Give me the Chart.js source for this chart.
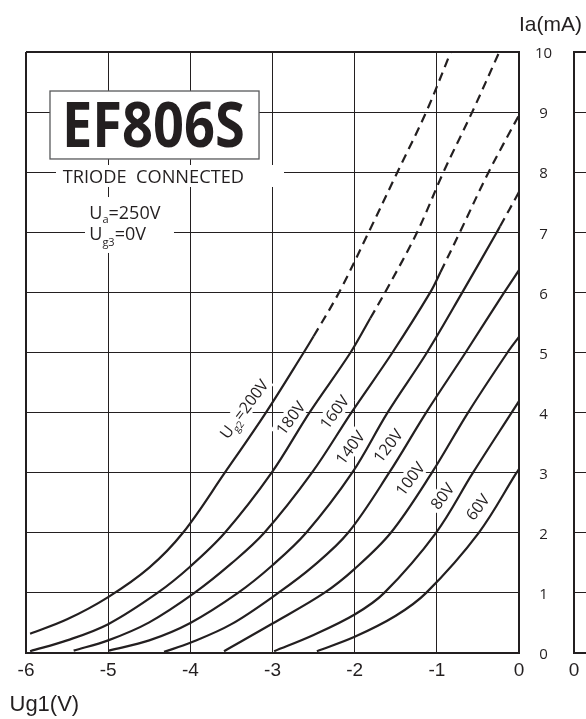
<!DOCTYPE html>
<html>
<head>
<meta charset="utf-8">
<script src="https://cdn.jsdelivr.net/npm/chart.js@4.4.1/dist/chart.umd.min.js"></script>
<style>
html,body{margin:0;padding:0;background:#fff;overflow:hidden;}
#wrap{position:relative;width:586px;height:719px;overflow:hidden;background:#fff;}
#c1{position:absolute;left:0;top:0;}
#c2{position:absolute;left:560px;top:0;}
</style>
</head>
<body>
<div id="wrap">
<canvas id="c1" width="586" height="719"></canvas>
<canvas id="c2" width="80" height="719"></canvas>
</div>
<script>
// ---------- data ----------
const ug1Ticks = [-6, -5, -4, -3, -2, -1, 0];
const iaTicks = [0, 1, 2, 3, 4, 5, 6, 7, 8, 9, 10];
const ug2Names = ['200V', '180V', '160V', '140V', '120V', '100V', '80V', '60V'];

const ug1_200 = [-5.95, -5.5, -5.0, -4.5, -4.09, -3.58, -3.08, -2.62, -2.50, -2.19, -1.83, -1.48, -1.13, -0.83];
const ia_200  = [0.32, 0.56, 0.93, 1.42, 2.0, 3.0, 4.0, 5.0, 5.27, 6.0, 7.0, 8.0, 9.0, 10.0];

const ug1_180 = [-5.95, -5.5, -5.0, -4.4, -4.0, -3.58, -3.01, -2.55, -2.05, -1.81, -1.63, -1.24, -0.92, -0.57, -0.24];
const ia_180  = [0.03, 0.21, 0.48, 1.0, 1.44, 2.0, 3.0, 4.0, 5.0, 5.57, 6.0, 7.0, 8.0, 9.0, 10.0];

const ug1_160 = [-5.42, -5.0, -4.5, -3.95, -3.5, -3.10, -2.52, -2.04, -1.54, -1.08, -0.955, -0.72, -0.37, 0.0];
const ia_160  = [0.04, 0.21, 0.51, 1.0, 1.49, 2.0, 3.0, 4.0, 5.0, 6.0, 6.34, 7.0, 8.0, 8.95];

const ug1_140 = [-4.99, -4.5, -4.0, -3.42, -3.0, -2.59, -2.03, -1.60, -1.12, -0.69, -0.27, -0.23, 0.0];
const ia_140  = [0.04, 0.21, 0.50, 1.0, 1.46, 2.0, 3.0, 4.0, 5.0, 6.0, 7.0, 7.1, 7.67];

const ug1_120 = [-4.32, -4.0, -3.5, -2.93, -2.5, -2.08, -1.58, -1.13, -0.65, -0.18, 0.0];
const ia_120  = [0.02, 0.17, 0.48, 1.0, 1.45, 2.0, 3.0, 4.0, 5.0, 6.0, 6.37];

const ug1_100 = [-3.59, -3.0, -2.37, -2.0, -1.56, -1.06, -0.62, -0.14, 0.0];
const ia_100  = [0.03, 0.49, 1.0, 1.40, 2.0, 3.0, 4.0, 5.0, 5.26];

const ug1_80 = [-2.98, -2.5, -2.0, -1.64, -1.01, -0.56, -0.09, 0.0];
const ia_80  = [0.03, 0.30, 0.64, 1.0, 2.0, 3.0, 4.0, 4.19];

const ug1_60 = [-2.46, -2.0, -1.5, -1.13, -0.49, -0.03, 0.0];
const ia_60  = [0.03, 0.27, 0.62, 1.0, 2.0, 3.0, 3.06];

// current above which each curve is drawn dashed (null = solid throughout)
const dashFromIa = [5.27, 5.57, 6.34, 7.1, null, null, null, null];

// curve label anchors (Ug1 V, Ia mA)
const labelUg1 = [-3.347, -2.78, -2.247, -2.057, -1.595, -1.327, -0.932, -0.503];
const labelIa  = [4.06, 3.91, 4.01, 3.42, 3.45, 2.90, 2.61, 2.43];

// ---------- chart ----------
const INK = '#231f20';
const allX = [ug1_200, ug1_180, ug1_160, ug1_140, ug1_120, ug1_100, ug1_80, ug1_60];
const allY = [ia_200, ia_180, ia_160, ia_140, ia_120, ia_100, ia_80, ia_60];

const datasets = allX.map((xs, k) => {
  const df = dashFromIa[k];
  return {
    label: ug2Names[k],
    data: xs.map((v, i) => ({x: v, y: allY[k][i]})),
    borderColor: INK,
    borderWidth: 2.2,
    pointRadius: 0,
    fill: false,
    tension: 0.35,
    segment: {
      borderDash: ctx => (df !== null && ctx.p0.parsed.y >= df - 1e-6) ? [9, 6] : undefined
    }
  };
});

function fitText(ctx, str, xl, xr, yb, font) {
  ctx.font = font;
  const w = ctx.measureText(str).width;
  ctx.save();
  ctx.translate(xl, yb);
  ctx.scale((xr - xl) / w, 1);
  ctx.textAlign = 'left';
  ctx.textBaseline = 'alphabetic';
  ctx.fillText(str, 0, 0);
  ctx.restore();
}

function partsWidth(ctx, parts) {
  let w = 0;
  parts.forEach(p => { ctx.font = p.font; w += ctx.measureText(p.t).width; });
  return w;
}
function drawParts(ctx, parts, x0, yb) {
  let x = x0;
  ctx.textAlign = 'left';
  ctx.textBaseline = 'alphabetic';
  parts.forEach(p => {
    ctx.font = p.font;
    ctx.fillText(p.t, x, yb + (p.dy || 0));
    x += ctx.measureText(p.t).width;
  });
}

const LBL = '16px "Open Sans"';
const SUB = '10px "Open Sans"';
function curveParts(k) {
  if (k === 0) return [{t: 'U', font: LBL}, {t: 'g2', font: SUB, dy: 4}, {t: '=200V', font: LBL}];
  return [{t: ug2Names[k], font: LBL}];
}
const ROT = -53 * Math.PI / 180;

const annot = {
  id: 'annot',
  beforeDatasetsDraw(chart) {
    const {ctx, scales: {x, y}} = chart;
    const px = v => x.getPixelForValue(v), py = v => y.getPixelForValue(v);
    ctx.save();
    ctx.fillStyle = '#fff';
    // white areas behind header texts
    const boxes = [[-5.708, -3.164, 9.351, 8.22], [-5.635, -2.86, 8.12, 7.754], [-5.282, -4.199, 7.587, 6.656]];
    boxes.forEach(b => ctx.fillRect(px(b[0]), py(b[2]), px(b[1]) - px(b[0]), py(b[3]) - py(b[2])));
    // title box border
    ctx.strokeStyle = '#58595b';
    ctx.lineWidth = 1.3;
    ctx.strokeRect(px(-5.708), py(9.351), px(-3.164) - px(-5.708), py(8.22) - py(9.351));
    // backgrounds behind curve labels
    labelUg1.forEach((v, k) => {
      const w = partsWidth(ctx, curveParts(k));
      ctx.save();
      ctx.translate(px(v), py(labelIa[k]));
      ctx.rotate(ROT);
      ctx.fillStyle = '#fff';
      ctx.fillRect(-w / 2 - 3, -9, w + 6, 18);
      ctx.restore();
    });
    ctx.restore();
  },
  afterDatasetsDraw(chart) {
    const {ctx, scales: {x, y}, chartArea} = chart;
    const px = v => x.getPixelForValue(v), py = v => y.getPixelForValue(v);
    ctx.save();
    ctx.fillStyle = INK;
    fitText(ctx, 'EF806S', px(-5.562), px(-3.335), py(8.414), 'bold 62px "Open Sans"');
    fitText(ctx, 'TRIODE  CONNECTED', px(-5.553), px(-3.347), py(7.825), '19px "Open Sans"');
    const F = '18px "Open Sans"', S = '11px "Open Sans"';
    drawParts(ctx, [{t: 'U', font: F}, {t: 'a', font: S, dy: 4}, {t: '=250V', font: F}], px(-5.23), py(7.216));
    drawParts(ctx, [{t: 'U', font: F}, {t: 'g3', font: S, dy: 6}, {t: '=0V', font: F}], px(-5.23), py(6.872));
    // curve labels
    labelUg1.forEach((v, k) => {
      const parts = curveParts(k);
      const w = partsWidth(ctx, parts);
      ctx.save();
      ctx.translate(px(v), py(labelIa[k]));
      ctx.rotate(ROT);
      drawParts(ctx, parts, -w / 2, 5.7);
      ctx.restore();
    });
    // axis titles
    ctx.textAlign = 'left';
    ctx.textBaseline = 'alphabetic';
    ctx.font = '22px "Liberation Sans"';
    ctx.fillText('Ug1(V)', chartArea.left - 16.5, chartArea.bottom + 58);
    ctx.font = '21px "Liberation Sans"';
    ctx.fillText('Ia(mA)', chartArea.right, chartArea.top - 21);
    ctx.restore();
  }
};

new Chart(document.getElementById('c1'), {
  type: 'line',
  data: {datasets},
  plugins: [annot],
  options: {
    responsive: false,
    animation: false,
    devicePixelRatio: 1,
    layout: {padding: {top: 52, left: 26, right: 0, bottom: 0}},
    plugins: {legend: {display: false}, tooltip: {enabled: false}},
    scales: {
      x: {
        type: 'linear', min: -6, max: 0, position: 'bottom',
        afterBuildTicks: s => { s.ticks = ug1Ticks.map(v => ({value: v})); },
        ticks: {color: INK, font: {family: 'Liberation Sans', size: 19}, padding: 6, maxRotation: 0, autoSkip: false},
        grid: {color: INK, lineWidth: c => (c.tick && c.tick.value === -6) ? 2 : 1, drawTicks: false},
        border: {color: INK, width: 2},
        afterFit: s => { s.height = 66; }
      },
      y: {
        type: 'linear', min: 0, max: 10, position: 'right',
        afterBuildTicks: s => { s.ticks = iaTicks.map(v => ({value: v})); },
        ticks: {color: INK, font: {family: 'Open Sans', size: 15}, padding: 16, crossAlign: 'center', labelOffset: 2},
        grid: {color: INK, lineWidth: c => (c.tick && c.tick.value === 10) ? 2 : 1, drawTicks: false},
        border: {color: INK, width: 2},
        afterFit: s => { s.width = 67; }
      }
    }
  }
});

// partially visible neighbouring panel on the right
new Chart(document.getElementById('c2'), {
  type: 'line',
  data: {datasets: []},
  options: {
    responsive: false,
    animation: false,
    devicePixelRatio: 1,
    layout: {padding: {top: 52, left: 14, right: 0, bottom: 0}},
    plugins: {legend: {display: false}, tooltip: {enabled: false}},
    scales: {
      x: {
        type: 'linear', min: 0, max: 2, position: 'bottom',
        afterBuildTicks: s => { s.ticks = [0, 1, 2].map(v => ({value: v})); },
        ticks: {color: INK, font: {family: 'Liberation Sans', size: 19}, padding: 6, maxRotation: 0, autoSkip: false},
        grid: {color: INK, drawTicks: false},
        border: {color: INK, width: 2},
        afterFit: s => { s.height = 66; }
      },
      y: {
        type: 'linear', min: 0, max: 10, position: 'left',
        afterBuildTicks: s => { s.ticks = iaTicks.map(v => ({value: v})); },
        ticks: {display: false},
        grid: {color: INK, lineWidth: c => (c.tick && c.tick.value === 10) ? 2 : 1, drawTicks: false},
        border: {color: INK, width: 2},
        afterFit: s => { s.width = 0; }
      }
    }
  }
});
</script>
</body>
</html>
